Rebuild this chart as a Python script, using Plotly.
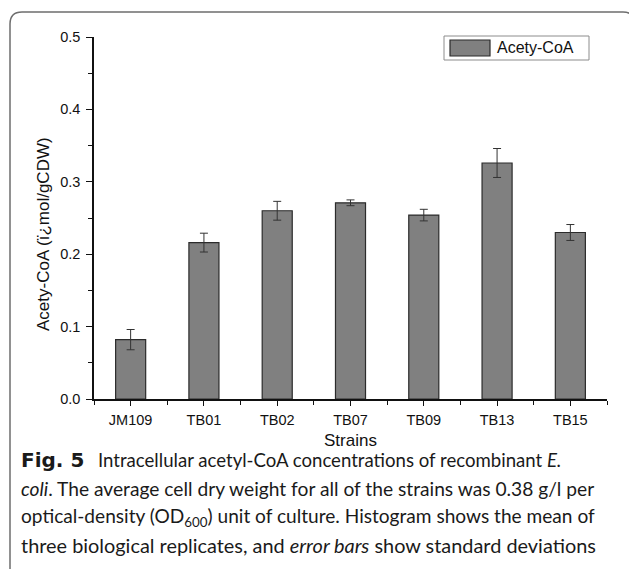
import plotly.graph_objects as go

# Acetyl-CoA per strain: mean and standard deviation (umol/gCDW)
strains = ["JM109", "TB01", "TB02", "TB07", "TB09", "TB13", "TB15"]
acetyl_coa = [0.082, 0.216, 0.260, 0.271, 0.254, 0.326, 0.230]
acetyl_coa_sd = [0.014, 0.013, 0.013, 0.004, 0.008, 0.020, 0.011]
y_ticks = [0.0, 0.1, 0.2, 0.3, 0.4, 0.5]

W, H = 629, 569
L, R, T, B = 94, 22, 37, 170
PW, PH = W - L - R, H - T - B


def px(x):
    return (x - L) / PW


def py(y):
    return (H - B - y) / PH


positions = list(range(len(strains)))

fig = go.Figure()
fig.add_trace(go.Bar(
    x=positions,
    y=acetyl_coa,
    width=0.41,
    marker=dict(color="#808080", line=dict(color="#2b2b2b", width=1.2)),
    error_y=dict(type="data", array=acetyl_coa_sd, visible=True,
                 color="#333333", thickness=1, width=4),
    name="Acety-CoA",
    showlegend=False,
))

axis_font = dict(family="Liberation Sans, Arial, sans-serif", size=14.5, color="#111111")

fig.update_layout(
    width=W, height=H,
    margin=dict(l=L, r=R, t=T, b=B, pad=0),
    paper_bgcolor="white",
    plot_bgcolor="white",
    font=axis_font,
    xaxis=dict(
        range=[-0.5, len(strains) - 0.5],
        tickmode="array", tickvals=positions, ticktext=strains,
        showgrid=False, zeroline=False,
        showline=True, linecolor="#111111", linewidth=1.5,
        ticks="outside", ticklen=5, tickwidth=1.3, tickcolor="#111111",
        ticklabelstandoff=2,
        minor=dict(tickmode="linear", tick0=0.5, dtick=1, ticks="outside",
                   ticklen=4, tickwidth=1.3, tickcolor="#111111"),
        fixedrange=True,
    ),
    yaxis=dict(
        range=[0, 0.5],
        tickmode="array", tickvals=y_ticks,
        ticktext=[f"{v:.1f}" for v in y_ticks],
        showgrid=False, zeroline=False,
        showline=True, linecolor="#111111", linewidth=1.5,
        ticks="outside", ticklen=6, tickwidth=1.3, tickcolor="#111111",
        ticklabelstandoff=3,
        minor=dict(tickmode="linear", tick0=0.05, dtick=0.1, ticks="outside",
                   ticklen=4, tickwidth=1.3, tickcolor="#111111"),
        fixedrange=True,
    ),
)

shapes = []
# rounded panel frame, running off the right and bottom of the page
r = 12
x0, y0, x1 = 10, 12, 635
frame_path = (
    f"M {px(x0)},{py(H + 5)} L {px(x0)},{py(y0 + r)} "
    f"Q {px(x0)},{py(y0)} {px(x0 + r)},{py(y0)} "
    f"L {px(x1 - r)},{py(y0)} Q {px(x1)},{py(y0)} {px(x1)},{py(y0 + r)} "
    f"L {px(x1)},{py(H + 5)}"
)
shapes.append(dict(type="path", xref="paper", yref="paper", path=frame_path,
                   line=dict(color="#6e6e6e", width=1.5)))

# legend box with swatch
shapes.append(dict(type="rect", xref="paper", yref="paper",
                   x0=px(444), x1=px(589), y0=py(60), y1=py(36),
                   line=dict(color="#8c8c8c", width=1), fillcolor="white"))
shapes.append(dict(type="rect", xref="paper", yref="paper",
                   x0=px(450), x1=px(490), y0=py(56), y1=py(40),
                   line=dict(color="#2b2b2b", width=1.2), fillcolor="#808080"))

annotations = [
    dict(xref="paper", yref="paper", x=px(495), y=py(48),
         xanchor="left", yanchor="middle", showarrow=False,
         text="Acety-CoA", font=dict(size=16, color="#111111")),
    # axis titles
    dict(xref="paper", yref="paper", x=px(350), y=py(440),
         xanchor="center", yanchor="middle", showarrow=False,
         text="Strains", font=dict(size=17, color="#111111")),
    dict(xref="paper", yref="paper", x=px(43), y=py(234),
         xanchor="center", yanchor="middle", showarrow=False, textangle=-90,
         text="Acety-CoA (\u00ef\u00bfmol/gCDW)", font=dict(size=17, color="#111111")),
]

# figure caption
cap_family = "Lato, Open Sans, sans-serif"
annotations.append(dict(
    xref="paper", yref="paper", x=px(19), y=py(460),
    xanchor="left", yanchor="middle", showarrow=False,
    text="<b>Fig. 5</b>",
    font=dict(family="DejaVu Sans, sans-serif", size=20, color="#1a1a1a"),
))
caption_lines = [
    "Intracellular acetyl-CoA concentrations of recombinant <i>E.</i>",
    "<i>coli</i>. The average cell dry weight for all of the strains was 0.38 g/l per",
    "optical-density (OD<sub>600</sub>) unit of culture. Histogram shows the mean of",
    "three biological replicates, and <i>error bars</i> show standard deviations",
]
caption_x = [96, 19, 19, 19]
caption_y = [460, 489, 517, 545]
caption_size = [18.6, 19.2, 19.1, 19.9]
for line, xx, yy, sz in zip(caption_lines, caption_x, caption_y, caption_size):
    annotations.append(dict(
        xref="paper", yref="paper", x=px(xx), y=py(yy),
        xanchor="left", yanchor="middle", showarrow=False,
        text=line, font=dict(family=cap_family, size=sz, color="#1a1a1a"),
    ))

fig.update_layout(shapes=shapes, annotations=annotations)

fig.write_html("out.html")
